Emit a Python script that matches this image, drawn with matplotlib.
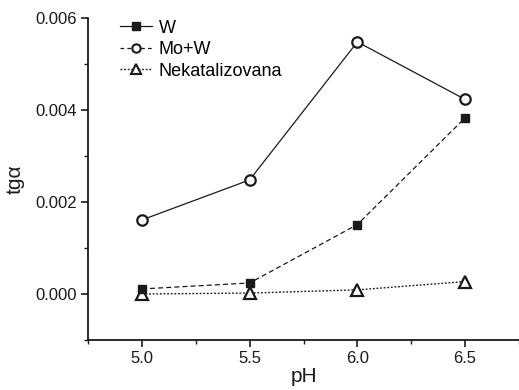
import matplotlib
matplotlib.use("Agg")
import matplotlib.pyplot as plt
from matplotlib.lines import Line2D
from matplotlib.ticker import MultipleLocator

plt.rcParams['font.family'] = ['Liberation Sans', 'DejaVu Sans']

ph = [5.0, 5.5, 6.0, 6.5]
w_vals = [0.00011, 0.00024, 0.00151, 0.00383]
mow_vals = [0.00161, 0.00248, 0.00548, 0.00423]
nek_vals = [0.0, 0.00002, 0.00009, 0.00027]
legend_labels = ["W", "Mo+W", "Nekatalizovana"]

col = '#1a1a1a'
fig = plt.figure(figsize=(5.19, 3.90), dpi=100)
ax = fig.add_axes([88/519, 50/390, 1 - 88/519, 322/390])

ax.plot(ph, mow_vals, '-', color=col, lw=0.9, marker='o', ms=7.5,
        mfc='white', mec=col, mew=1.6)
ax.plot(ph, w_vals, '--', color=col, lw=0.9, marker='s', ms=5.5,
        mfc=col, mec=col, dashes=(4, 2.5))
ax.plot(ph, nek_vals, ':', color=col, lw=1.0, marker='^', ms=8.5,
        mfc='white', mec=col, mew=1.6, zorder=1, dashes=(1.3, 1.3))

ax.set_xlim(4.75, 6.75)
ax.set_ylim(-0.001, 0.006)
ax.xaxis.set_major_locator(MultipleLocator(0.5))
ax.xaxis.set_minor_locator(MultipleLocator(0.25))
ax.yaxis.set_major_locator(MultipleLocator(0.002))
ax.yaxis.set_minor_locator(MultipleLocator(0.001))
ax.set_xticks([5.0, 5.5, 6.0, 6.5])
ax.set_yticks([0.0, 0.002, 0.004, 0.006])
ax.set_yticklabels(['0.000', '0.002', '0.004', '0.006'])

for s in ['top', 'right']:
    ax.spines[s].set_visible(False)
for s in ['left', 'bottom']:
    ax.spines[s].set_linewidth(1.3)
    ax.spines[s].set_color(col)
ax.tick_params(which='major', direction='out', length=5, width=1.2,
               labelsize=12, colors=col, pad=3)
ax.tick_params(which='minor', direction='out', length=3, width=1.0, colors=col)

ax.set_xlabel('pH', fontsize=15, color=col, labelpad=1)
ax.set_ylabel('tgα', fontsize=15, color=col, labelpad=8)

handles = [
    Line2D([], [], ls='-', color=col, lw=0.9, marker='s', ms=5.5, mfc=col, mec=col),
    Line2D([], [], ls='--', color=col, lw=0.9, marker='o', ms=6, mfc='white', mec=col, mew=1.5, dashes=(3, 2.5)),
    Line2D([], [], ls=':', color=col, lw=1.0, marker='^', ms=7, mfc='white', mec=col, mew=1.5, dashes=(1.3, 1.3)),
]
ax.legend(handles, legend_labels, loc='upper left', bbox_to_anchor=(0.074, 0.995),
          frameon=False, fontsize=13, handlelength=1.8, handletextpad=0.35,
          labelspacing=0.25, borderaxespad=0, borderpad=0)

fig.savefig('out.png', dpi=100)
